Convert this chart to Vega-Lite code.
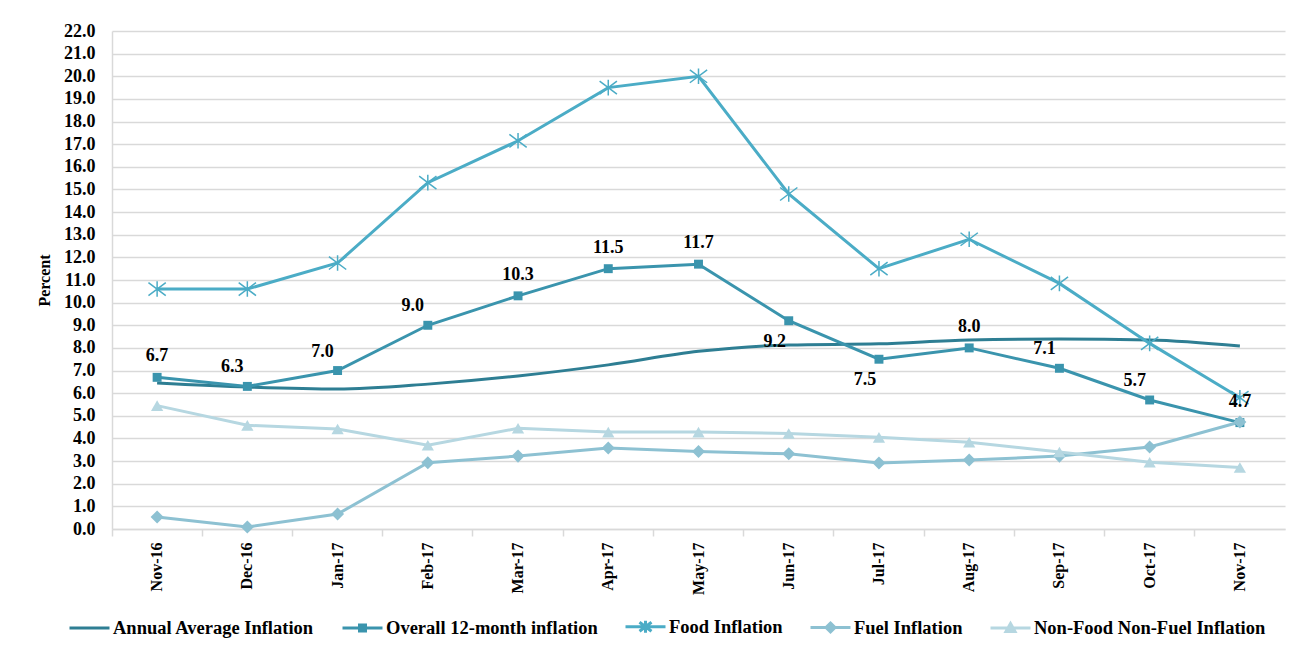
{
  "$schema": "https://vega.github.io/schema/vega-lite/v6.json",
  "width": 1173,
  "height": 498,
  "autosize": {"type": "none"},
  "padding": {"left": 112, "top": 31, "right": 9, "bottom": 117},
  "background": "white",
  "config": {
    "font": "Liberation Serif",
    "view": {"stroke": null}
  },
  "data": {
    "values": [
      {"month": "Nov-16", "series": "Annual Average Inflation", "value": 6.45},
      {"month": "Dec-16", "series": "Annual Average Inflation", "value": 6.27},
      {"month": "Jan-17", "series": "Annual Average Inflation", "value": 6.18},
      {"month": "Feb-17", "series": "Annual Average Inflation", "value": 6.4},
      {"month": "Mar-17", "series": "Annual Average Inflation", "value": 6.76},
      {"month": "Apr-17", "series": "Annual Average Inflation", "value": 7.25},
      {"month": "May-17", "series": "Annual Average Inflation", "value": 7.85},
      {"month": "Jun-17", "series": "Annual Average Inflation", "value": 8.13},
      {"month": "Jul-17", "series": "Annual Average Inflation", "value": 8.18},
      {"month": "Aug-17", "series": "Annual Average Inflation", "value": 8.35},
      {"month": "Sep-17", "series": "Annual Average Inflation", "value": 8.39},
      {"month": "Oct-17", "series": "Annual Average Inflation", "value": 8.35},
      {"month": "Nov-17", "series": "Annual Average Inflation", "value": 8.08},
      {"month": "Nov-16", "series": "Overall 12-month inflation", "value": 6.7},
      {"month": "Dec-16", "series": "Overall 12-month inflation", "value": 6.3},
      {"month": "Jan-17", "series": "Overall 12-month inflation", "value": 7.0},
      {"month": "Feb-17", "series": "Overall 12-month inflation", "value": 9.0},
      {"month": "Mar-17", "series": "Overall 12-month inflation", "value": 10.3},
      {"month": "Apr-17", "series": "Overall 12-month inflation", "value": 11.5},
      {"month": "May-17", "series": "Overall 12-month inflation", "value": 11.7},
      {"month": "Jun-17", "series": "Overall 12-month inflation", "value": 9.2},
      {"month": "Jul-17", "series": "Overall 12-month inflation", "value": 7.5},
      {"month": "Aug-17", "series": "Overall 12-month inflation", "value": 8.0},
      {"month": "Sep-17", "series": "Overall 12-month inflation", "value": 7.1},
      {"month": "Oct-17", "series": "Overall 12-month inflation", "value": 5.7},
      {"month": "Nov-17", "series": "Overall 12-month inflation", "value": 4.7},
      {"month": "Nov-16", "series": "Food Inflation", "value": 10.6},
      {"month": "Dec-16", "series": "Food Inflation", "value": 10.6},
      {"month": "Jan-17", "series": "Food Inflation", "value": 11.75},
      {"month": "Feb-17", "series": "Food Inflation", "value": 15.3},
      {"month": "Mar-17", "series": "Food Inflation", "value": 17.15},
      {"month": "Apr-17", "series": "Food Inflation", "value": 19.5},
      {"month": "May-17", "series": "Food Inflation", "value": 20.0},
      {"month": "Jun-17", "series": "Food Inflation", "value": 14.8},
      {"month": "Jul-17", "series": "Food Inflation", "value": 11.5},
      {"month": "Aug-17", "series": "Food Inflation", "value": 12.8},
      {"month": "Sep-17", "series": "Food Inflation", "value": 10.85},
      {"month": "Oct-17", "series": "Food Inflation", "value": 8.2},
      {"month": "Nov-17", "series": "Food Inflation", "value": 5.8},
      {"month": "Nov-16", "series": "Fuel Inflation", "value": 0.53},
      {"month": "Dec-16", "series": "Fuel Inflation", "value": 0.09},
      {"month": "Jan-17", "series": "Fuel Inflation", "value": 0.66},
      {"month": "Feb-17", "series": "Fuel Inflation", "value": 2.93},
      {"month": "Mar-17", "series": "Fuel Inflation", "value": 3.22},
      {"month": "Apr-17", "series": "Fuel Inflation", "value": 3.58},
      {"month": "May-17", "series": "Fuel Inflation", "value": 3.42},
      {"month": "Jun-17", "series": "Fuel Inflation", "value": 3.32},
      {"month": "Jul-17", "series": "Fuel Inflation", "value": 2.92},
      {"month": "Aug-17", "series": "Fuel Inflation", "value": 3.05},
      {"month": "Sep-17", "series": "Fuel Inflation", "value": 3.22},
      {"month": "Oct-17", "series": "Fuel Inflation", "value": 3.62},
      {"month": "Nov-17", "series": "Fuel Inflation", "value": 4.73},
      {"month": "Nov-16", "series": "Non-Food Non-Fuel Inflation", "value": 5.45},
      {"month": "Dec-16", "series": "Non-Food Non-Fuel Inflation", "value": 4.58},
      {"month": "Jan-17", "series": "Non-Food Non-Fuel Inflation", "value": 4.42},
      {"month": "Feb-17", "series": "Non-Food Non-Fuel Inflation", "value": 3.7},
      {"month": "Mar-17", "series": "Non-Food Non-Fuel Inflation", "value": 4.45},
      {"month": "Apr-17", "series": "Non-Food Non-Fuel Inflation", "value": 4.28},
      {"month": "May-17", "series": "Non-Food Non-Fuel Inflation", "value": 4.28},
      {"month": "Jun-17", "series": "Non-Food Non-Fuel Inflation", "value": 4.22},
      {"month": "Jul-17", "series": "Non-Food Non-Fuel Inflation", "value": 4.05},
      {"month": "Aug-17", "series": "Non-Food Non-Fuel Inflation", "value": 3.83},
      {"month": "Sep-17", "series": "Non-Food Non-Fuel Inflation", "value": 3.4},
      {"month": "Oct-17", "series": "Non-Food Non-Fuel Inflation", "value": 2.95},
      {"month": "Nov-17", "series": "Non-Food Non-Fuel Inflation", "value": 2.72}
    ]
  },
  "resolve": {"axis": {"x": "independent"}},
  "layer": [
    {
      "transform": [{"filter": "datum.series === 'Annual Average Inflation'"}],
      "mark": {"type": "line", "strokeWidth": 3, "interpolate": "monotone"},
      "encoding": {
        "x": {
          "field": "month", "type": "ordinal",
          "sort": ["Nov-16","Dec-16","Jan-17","Feb-17","Mar-17","Apr-17","May-17","Jun-17","Jul-17","Aug-17","Sep-17","Oct-17","Nov-17"],
          "scale": {"type": "band", "paddingInner": 0, "paddingOuter": 0},
          "axis": {"orient": "bottom", "title": null, "labels": false, "bandPosition": 0, "ticks": true, "tickSize": 7, "tickColor": "#D9D9D9", "tickWidth": 1.5, "domain": true, "domainColor": "#D9D9D9", "domainWidth": 1.5, "grid": false}
        },
        "y": {
          "field": "value", "type": "quantitative",
          "scale": {"domain": [0, 22], "nice": false},
          "axis": {
            "values": [0,1,2,3,4,5,6,7,8,9,10,11,12,13,14,15,16,17,18,19,20,21,22],
            "format": ".1f", "labelOverlap": false,
            "title": "Percent", "titleFont": "Liberation Serif", "titleFontWeight": "bold", "titleFontSize": 16, "titleColor": "black", "titlePadding": 11,
            "labelFont": "Liberation Serif", "labelFontWeight": "bold", "labelFontSize": 18, "labelColor": "black", "labelPadding": 17,
            "ticks": false, "domain": true, "domainColor": "#D9D9D9", "domainWidth": 1.5,
            "grid": true, "gridColor": "#D9D9D9", "gridWidth": 1.5
          }
        },
        "color": {
          "field": "series", "type": "nominal",
          "scale": {
            "domain": ["Annual Average Inflation", "Overall 12-month inflation", "Food Inflation", "Fuel Inflation", "Non-Food Non-Fuel Inflation"],
            "range": ["#2E7E93", "#3A94AD", "#4BACC6", "#8DC1D2", "#B6D7E1"]
          },
          "legend": {
            "title": null, "orient": "none", "legendX": -34, "legendY": 584, "direction": "horizontal", "columns": 5,
            "symbolSize": 400, "symbolStrokeWidth": 3,
            "labelFont": "Liberation Serif", "labelFontWeight": "bold", "labelFontSize": 18.5, "labelColor": "black", "labelLimit": 0,
            "labelOffset": 12, "columnPadding": 21,
            "encode": {
              "symbols": {
                "update": {
                  "shape": {"signal": "datum.value === 'Annual Average Inflation' ? 'M-2,0H2' : datum.value === 'Overall 12-month inflation' ? 'M-2,0H2M-0.3,-0.3H0.3V0.3H-0.3Z' : datum.value === 'Food Inflation' ? 'M-2,0H2M0,-0.6V0.6M-0.6,-0.45L0.6,0.45M0.6,-0.45L-0.6,0.45' : datum.value === 'Fuel Inflation' ? 'M-2,0H2M0,-0.45L0.45,0L0,0.45L-0.45,0Z' : 'M-2,0H2M0,-0.45L0.45,0.35L-0.45,0.35Z'"},
                  "fill": {"scale": "color", "field": "value"},
                  "stroke": {"scale": "color", "field": "value"},
                  "strokeWidth": {"value": 3},
                  "opacity": {"value": 1}
                }
              }
            }
          }
        }
      }
    },
    {
      "encoding": {
        "x": {
          "field": "month", "type": "ordinal",
          "sort": ["Nov-16","Dec-16","Jan-17","Feb-17","Mar-17","Apr-17","May-17","Jun-17","Jul-17","Aug-17","Sep-17","Oct-17","Nov-17"],
          "scale": {"type": "band", "paddingInner": 0, "paddingOuter": 0},
          "axis": {"orient": "bottom", "title": null, "labelAngle": -90, "labelFont": "Liberation Serif", "labelFontWeight": "bold", "labelFontSize": 16, "labelColor": "black", "labelPadding": 13, "ticks": false, "domain": false, "grid": false}
        },
        "y": {
          "field": "value", "type": "quantitative",
          "scale": {"domain": [0, 22], "nice": false},
          "axis": {
            "values": [0,1,2,3,4,5,6,7,8,9,10,11,12,13,14,15,16,17,18,19,20,21,22],
            "format": ".1f", "labelOverlap": false,
            "title": "Percent", "titleFont": "Liberation Serif", "titleFontWeight": "bold", "titleFontSize": 16, "titleColor": "black", "titlePadding": 11,
            "labelFont": "Liberation Serif", "labelFontWeight": "bold", "labelFontSize": 18, "labelColor": "black", "labelPadding": 17,
            "ticks": false, "domain": true, "domainColor": "#D9D9D9", "domainWidth": 1.5,
            "grid": true, "gridColor": "#D9D9D9", "gridWidth": 1.5
          }
        },
        "color": {"field": "series", "type": "nominal"}
      },
      "layer": [
        {
          "transform": [{"filter": "datum.series !== 'Annual Average Inflation'"}],
          "mark": {"type": "line", "strokeWidth": 3}
        },
        {
          "transform": [{"filter": "datum.series === 'Overall 12-month inflation'"}],
          "mark": {"type": "point", "shape": "square", "size": 80, "filled": true, "opacity": 1}
        },
        {
          "transform": [{"filter": "datum.series === 'Food Inflation'"}],
          "mark": {"type": "point", "shape": "M0,-0.9V0.9M-1,-0.75L1,0.75M1,-0.75L-1,0.75", "size": 300, "filled": false, "strokeWidth": 1.5, "opacity": 1}
        },
        {
          "transform": [{"filter": "datum.series === 'Fuel Inflation'"}],
          "mark": {"type": "point", "shape": "diamond", "size": 170, "filled": true, "opacity": 1}
        },
        {
          "transform": [{"filter": "datum.series === 'Non-Food Non-Fuel Inflation'"}],
          "mark": {"type": "point", "shape": "triangle-up", "size": 150, "filled": true, "opacity": 1}
        },
        {
          "transform": [{"filter": "datum.series === 'Overall 12-month inflation' && indexof(['Nov-16','Mar-17','Apr-17','May-17','Aug-17','Nov-17'], datum.month) >= 0"}],
          "mark": {"type": "text", "dy": -21, "font": "Liberation Serif", "fontWeight": "bold", "fontSize": 18, "baseline": "middle"},
          "encoding": {"text": {"field": "value", "format": ".1f"}, "color": {"value": "black"}}
        },
        {
          "transform": [{"filter": "datum.series === 'Overall 12-month inflation' && indexof(['Dec-16','Jan-17','Feb-17','Sep-17','Oct-17'], datum.month) >= 0"}],
          "mark": {"type": "text", "dy": -19, "dx": -15, "font": "Liberation Serif", "fontWeight": "bold", "fontSize": 18, "baseline": "middle"},
          "encoding": {"text": {"field": "value", "format": ".1f"}, "color": {"value": "black"}}
        },
        {
          "transform": [{"filter": "datum.series === 'Overall 12-month inflation' && indexof(['Jun-17','Jul-17'], datum.month) >= 0"}],
          "mark": {"type": "text", "dy": 21, "dx": -14, "font": "Liberation Serif", "fontWeight": "bold", "fontSize": 18, "baseline": "middle"},
          "encoding": {"text": {"field": "value", "format": ".1f"}, "color": {"value": "black"}}
        }
      ]
    }
  ]
}
